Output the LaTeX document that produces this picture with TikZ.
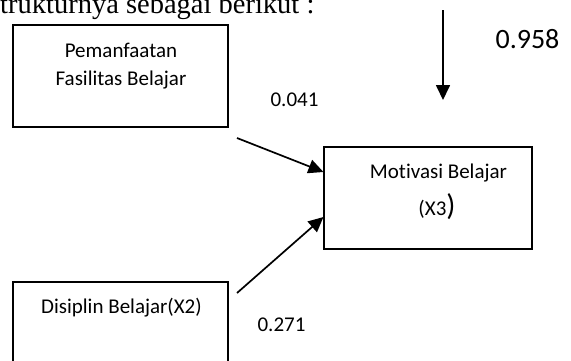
\documentclass[tikz,border=0pt]{standalone}
\usepackage{fontspec}
\setmainfont{Liberation Serif}
\newfontfamily\lab[Ligatures=NoCommon]{Carlito}
\usetikzlibrary{arrows.meta}
\tikzset{
  box/.style={draw=black, line width=1.1pt, rectangle, inner sep=0pt},
  txt/.style={anchor=base, inner sep=0pt, font=\lab\fontsize{21}{24}\selectfont},
  arr/.style={draw=black, line width=1.7pt, -{Triangle[length=15pt,width=14pt]}}
}
\begin{document}
\begin{tikzpicture}[x=1pt,y=-1pt]
\useasboundingbox (0,0) rectangle (571,360);
\clip (0,0) rectangle (571,360);
% heading (cut off by the picture edge)
\node[anchor=base west, inner sep=0pt, font=\fontsize{28.5}{32}\selectfont] (head) at (0,13) {trukturnya sebagai berikut :};
% boxes
\node[box, minimum width=215pt, minimum height=102pt] (pf) at (120.5,76) {};
\node[box, minimum width=208pt, minimum height=102pt] (mb) at (428,198) {};
\node[box, minimum width=215pt, minimum height=92pt] (db) at (120.5,328) {};
% box texts
\node[txt] (pf1) at (121,57) {Pemanfaatan};
\node[txt] (pf2) at (121,85) {Fasilitas Belajar};
\node[txt] (mb1) at (438.5,178) {Motivasi Belajar};
\node[txt] (mb2) at (437,215) {(X3\fontsize{30}{30}\selectfont)};
\node[txt] (db1) at (121.5,313) {Disiplin Belajar(X2)};
% coefficients
\node[txt] (c1) at (294.5,106) {0.041};
\node[txt] (c2) at (281.5,331) {0.271};
\node[txt, font=\lab\fontsize{28}{30}\selectfont] (c3) at (527.5,48) {0.958};
% connectors
\coordinate (s1) at (237,138);
\coordinate (s2) at (237,293);
\coordinate (t1) at ([yshift=26pt]mb.west);
\coordinate (t2) at ([yshift=-19pt]mb.west);
\coordinate (v0) at (443,10);
\coordinate (v1) at (443,100);
\draw[arr] (s1) -- (t1);
\draw[arr] (s2) -- (t2);
\draw[arr] (v0) -- (v1);
\end{tikzpicture}
\end{document}
